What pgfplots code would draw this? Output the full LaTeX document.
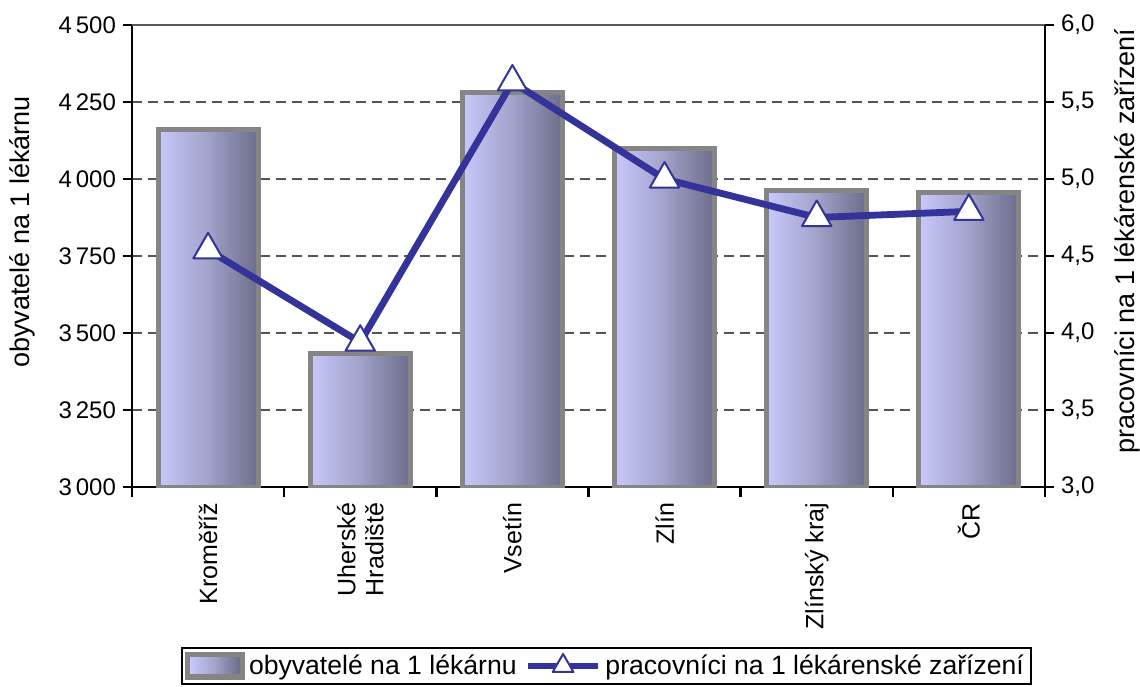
\documentclass[border=0pt]{standalone}
\usepackage{pgfplots}
\pgfplotsset{compat=1.18}
\usepackage{fontspec}
\setmainfont{Liberation Sans}
\definecolor{barL}{HTML}{C8C8FC}
\definecolor{barM}{HTML}{A2A2CA}
\definecolor{barR}{HTML}{6C6C8A}
\definecolor{barEdge}{HTML}{858585}
\definecolor{lineBlue}{HTML}{333399}
\definecolor{gridc}{HTML}{555555}
\pgfplotsset{
  lineleg/.style={legend image code/.code={\draw[mark repeat=2,mark phase=2,##1,mark size=6pt] plot coordinates {(0pt,0pt) (17.5pt,0pt) (35pt,0pt)};}},
  barleg/.style={legend image code/.code={
    \fill[barEdge, draw=none] (0pt,-7pt) rectangle (30pt,7pt);
    \shade[left color=barL, right color=barR, middle color=barM, draw=none] (2.5pt,-4pt) rectangle (27.5pt,4pt);}},
  mybar/.style={ybar, bar width=50pt, bar shift=0pt, draw=barEdge, line width=2.5pt,
    left color=barL, right color=barR, middle color=barM},
}
\begin{document}
\begin{tikzpicture}
\begin{axis}[
  at={(0,0)}, anchor=south west,
  scale only axis, width=456.5pt, height=231pt,
  xmin=-0.5, xmax=5.5, ymin=3000, ymax=4500,
  axis y line*=left, axis x line*=bottom,
  axis line style={line width=1.4pt, black},
  x axis line style={-}, y axis line style={-},
  ytick={3000,3250,...,4500},
  ymajorgrids, grid style={gridc, line width=0.6pt, dash pattern=on 5pt off 3pt},
  tick align=outside, major tick length=4.5pt,
  tick style={black, line width=1pt},
  xtick={0,...,5},
  xticklabels={Kroměříž,{Uherské\\Hradiště},Vsetín,Zlín,Zlínský kraj,ČR},
  major x tick style={draw=none},
  minor xtick={-0.5,0.5,...,5.5},
  minor tick length=5pt,
  minor x tick style={black, line width=1.2pt},
  xticklabel style={rotate=90, anchor=east, align=right, font=\fontsize{12.5}{14}\selectfont},
  yticklabel style={font=\fontsize{12}{14}\selectfont},
  /pgf/number format/assume math mode=true,
  /pgf/number format/1000 sep={\,},
  ylabel={obyvatelé na 1 lékárnu},
  ylabel style={at={(axis description cs:-0.1205,0.552)}, anchor=center, font=\fontsize{13.5}{15}\selectfont},
]
\addplot[mybar] coordinates {(0,4160)};
\addplot[mybar] coordinates {(1,3435)};
\addplot[mybar] coordinates {(2,4280)};
\addplot[mybar] coordinates {(3,4100)};
\addplot[mybar] coordinates {(4,3963)};
\addplot[mybar] coordinates {(5,3957)};
\draw[color=black!65, line width=1pt] (rel axis cs:0,1) -- (rel axis cs:1,1);
\end{axis}
\begin{axis}[
  at={(0,0)}, anchor=south west,
  scale only axis, width=456.5pt, height=231pt,
  xmin=-0.5, xmax=5.5, ymin=3, ymax=6,
  axis y line*=right, axis x line=none,
  axis line style={line width=1.4pt, black},
  y axis line style={-},
  ytick={3,3.5,...,6},
  tick align=outside, major tick length=4.5pt,
  tick style={black, line width=1pt},
  yticklabel style={font=\fontsize{12}{14}\selectfont, /pgf/number format/.cd, use comma, fixed, fixed zerofill, precision=1},
  /pgf/number format/assume math mode=true,
  ylabel={pracovníci na 1 lékárenské zařízení},
  ylabel style={at={(axis description cs:1.0898,0.532)}, anchor=center, font=\fontsize{13.5}{15}\selectfont},
  legend columns=2,
  legend style={at={(0.5197,-0.3874)}, anchor=center, draw=black, line width=1pt,
    font=\fontsize{13.3}{15}\selectfont, inner xsep=1.5pt, inner ysep=1.5pt,
    /tikz/every even column/.append style={column sep=2pt}},
]
\addlegendimage{barleg}
\addlegendentry{obyvatelé na 1 lékárnu}
\addplot[lineBlue, line width=3.4pt, line join=round, mark=triangle*, mark size=8.5pt,
  mark options={fill=white, draw=lineBlue, line width=1pt, solid}, lineleg]
  coordinates {(0,4.54) (1,3.94) (2,5.63) (3,5.00) (4,4.75) (5,4.79)};
\addlegendentry{pracovníci na 1 lékárenské zařízení}
\end{axis}
\pgfresetboundingbox
\path (-66pt,-99.5pt) rectangle (504pt,243.5pt);
\end{tikzpicture}
\end{document}
